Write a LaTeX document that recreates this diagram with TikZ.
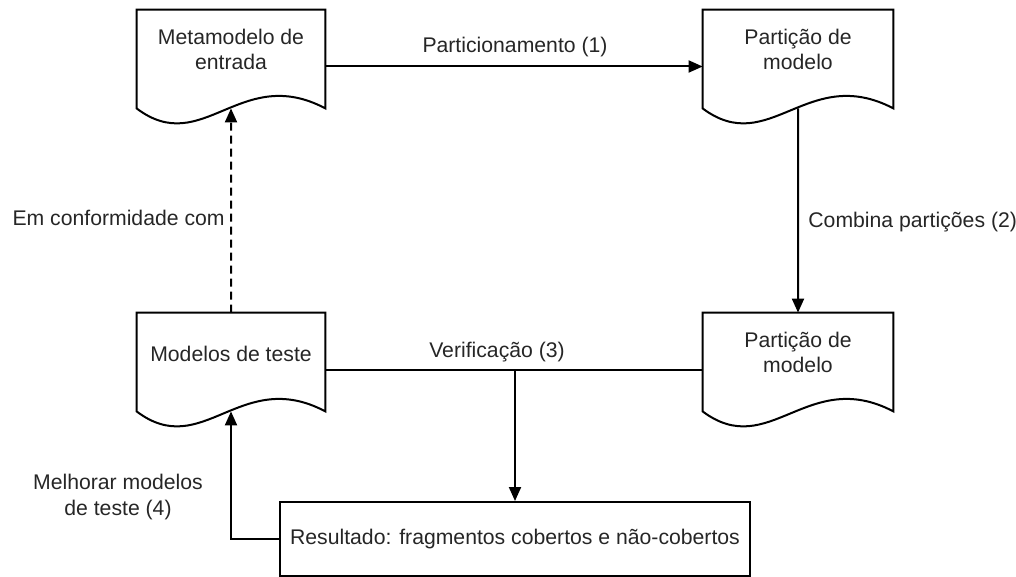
\documentclass[tikz,border=0pt]{standalone}
\usepackage{fontspec}
\setmainfont{Liberation Sans}
\usetikzlibrary{arrows.meta,calc}

% one unit = one pixel of the 1016 x 577 canvas (y grows downwards)
\tikzset{
  every node/.style={font=\fontsize{10.6}{12.6}\selectfont, text=black!85},
  lineopt/.style={line width=1pt, draw=black},
  docshape/.style={minimum width=#1, minimum height=56.5pt, inner sep=0pt, draw=none},
  resbox/.style={lineopt, draw, minimum width=235pt, minimum height=37pt, inner sep=0pt},
  flow/.style={lineopt, -{Triangle[length=7pt,width=6pt]}},
  dashflow/.style={flow, dash pattern=on 4pt off 2.5pt},
  lbl/.style={align=center, inner sep=0pt},
}

% outline of a document symbol laid over a named node;
% defines (#1-w), the middle of its wavy bottom edge
\newcommand\drawdoc[1]{%
  \coordinate (#1-l) at ($(#1.south west)+(0,-15)$);
  \coordinate (#1-r) at ($(#1.south east)+(0,-15)$);
  \coordinate (#1-w) at ($(#1-l)!0.5!(#1-r)$);
  \draw[lineopt, line join=miter] (#1-l) -- (#1.north west) -- (#1.north east) -- (#1-r)
    .. controls ($(#1-l)!0.55!(#1-r)+(0,-45)$) and ($(#1-l)!0.35!(#1-r)+(0,50)$) .. (#1-l) -- cycle;
}

\begin{document}
\begin{tikzpicture}[x=0.5pt, y=-0.5pt]
  \useasboundingbox (0,0) rectangle (1016,577);

  % document shapes
  \node[docshape=94pt] (meta)   at (231,66.5)  {};
  \node[docshape=95pt] (part1)  at (798,66.5)  {};
  \node[docshape=94pt] (models) at (231,369.5) {};
  \node[docshape=95pt] (part2)  at (798,369.5) {};
  \drawdoc{meta}
  \drawdoc{part1}
  \drawdoc{models}
  \drawdoc{part2}

  \node[lbl] (meta-t)   at ($(meta.center)+(0,-17)$)   {Metamodelo de\\entrada};
  \node[lbl] (part1-t)  at ($(part1.center)+(0,-17)$)  {Partição de\\modelo};
  \node[lbl] (models-t) at ($(models.center)+(0,-16)$) {Modelos de teste};
  \node[lbl] (part2-t)  at ($(part2.center)+(0,-17)$)  {Partição de\\modelo};

  % result box
  \node[resbox] (result) at (515,539) {Resultado: fragmentos cobertos e não-cobertos};

  % connectors
  \draw[flow] (meta.east) -- (part1.west);
  \draw[flow] (part1-w) -- (part2.north);
  \draw[dashflow] (models.north) -- (meta-w);
  \draw[lineopt] (models.east) -- (part2.west);
  \coordinate (vjoin) at (result.north |- models.east);
  \draw[flow] (vjoin) -- (result.north);
  \draw[flow] (result.west) -| (models-w);

  % connector labels
  \node[lbl] (l1) at (515,47) {Particionamento (1)};
  \node[lbl, anchor=west] (l2) at (808,222) {Combina partições (2)};
  \node[lbl, anchor=east] (l0) at (225,218) {Em conformidade com};
  \node[lbl] (l3) at (497,352) {Verificação (3)};
  \node[lbl] (l4) at (118,497) {Melhorar modelos\\de teste (4)};
\end{tikzpicture}
\end{document}
